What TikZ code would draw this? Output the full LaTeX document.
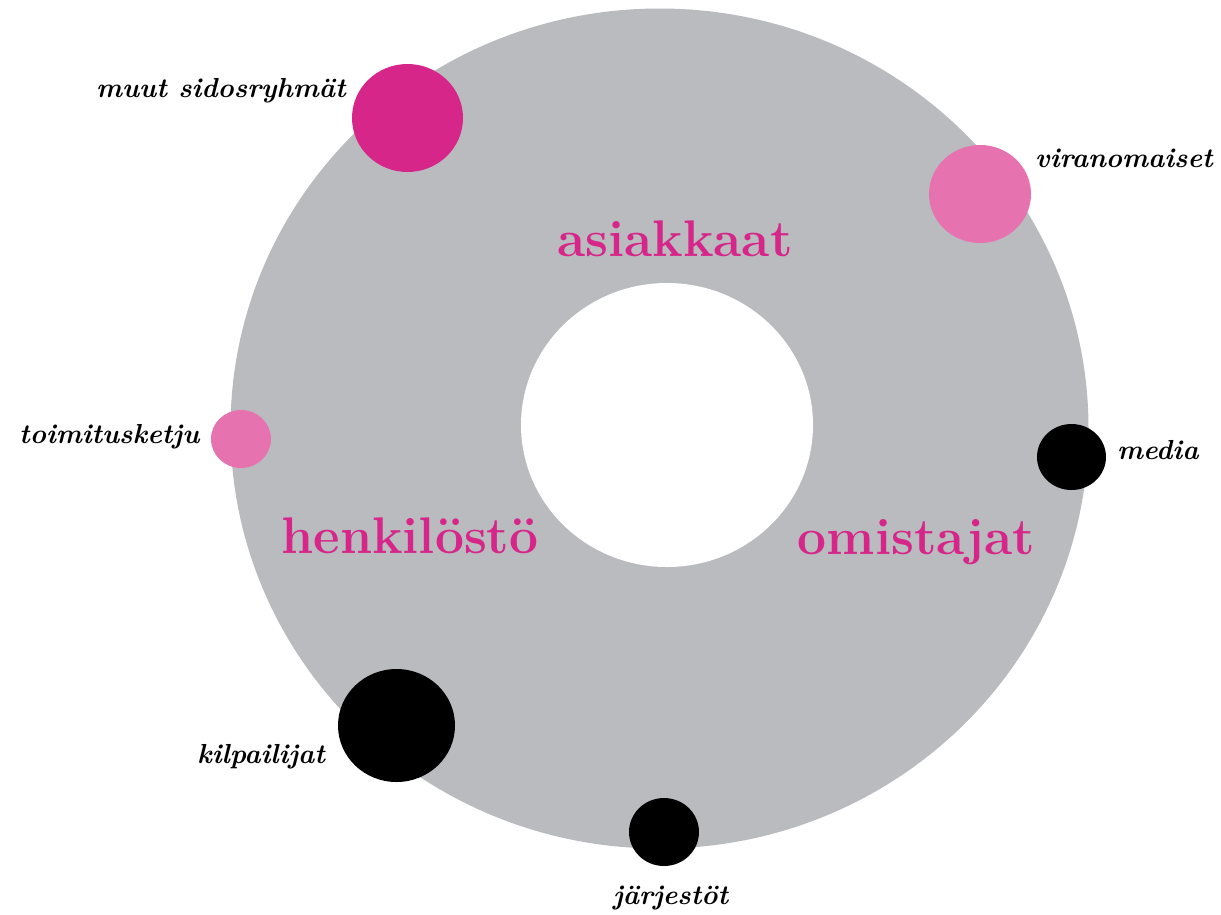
\documentclass[tikz,border=0pt]{standalone}
\usepackage{fontspec}
\usetikzlibrary{shapes.geometric}
\definecolor{ringgray}{HTML}{BABBBF}
\definecolor{deepmag}{HTML}{D6268A}
\definecolor{softpink}{HTML}{E672B0}
\begin{document}
\begin{tikzpicture}[x=1pt,y=-1pt,
  disc/.style={ellipse, inner sep=0pt, draw=none},
  lbl/.style={anchor=base west, inner sep=0pt, text=black, font=\fontsize{27.5}{30}\selectfont\bfseries\itshape},
  core/.style={anchor=base, inner sep=0pt, text=deepmag, font=\fontsize{51.5}{56}\selectfont\bfseries}]
\useasboundingbox[fill=white] (0,0) rectangle (1221,914);
% ring
\node[disc, fill=ringgray, minimum width=858pt, minimum height=840pt] (ring) at (659.5,428.5) {};
\node[disc, fill=white, minimum width=292pt, minimum height=284pt] (hole) at (667,425) {};
% stakeholder dots
\node[disc, fill=deepmag, minimum width=111pt, minimum height=108pt] (muut) at (407.5,118) {};
\node[disc, fill=softpink, minimum width=102pt, minimum height=98pt] (viran) at (980,194) {};
\node[disc, fill=softpink, minimum width=60pt, minimum height=58pt] (toimi) at (241,439) {};
\node[disc, fill=black, minimum width=69pt, minimum height=66pt] (media) at (1071.5,457) {};
\node[disc, fill=black, minimum width=117pt, minimum height=113pt] (kilpa) at (396.5,725.5) {};
\node[disc, fill=black, minimum width=70pt, minimum height=68pt] (jarj) at (664,832) {};
% core labels
\node[core] (asiak) at (675,256) {asiakkaat};
\node[core] (henk) at (410,553) {henkilöstö};
\node[core] (omist) at (916.5,554) {omistajat};
% outer labels
\node[lbl] (lmuut) at (96,97) {muut sidosryhmät};
\node[lbl] (lviran) at (1035,167) {viranomaiset};
\node[lbl] (ltoimi) at (19,443) {toimitusketju};
\node[lbl] (lmedia) at (1117,459) {media};
\node[lbl] (lkilpa) at (197,763) {kilpailijat};
\node[lbl] (ljarj) at (613,904) {järjestöt};
\end{tikzpicture}
\end{document}
